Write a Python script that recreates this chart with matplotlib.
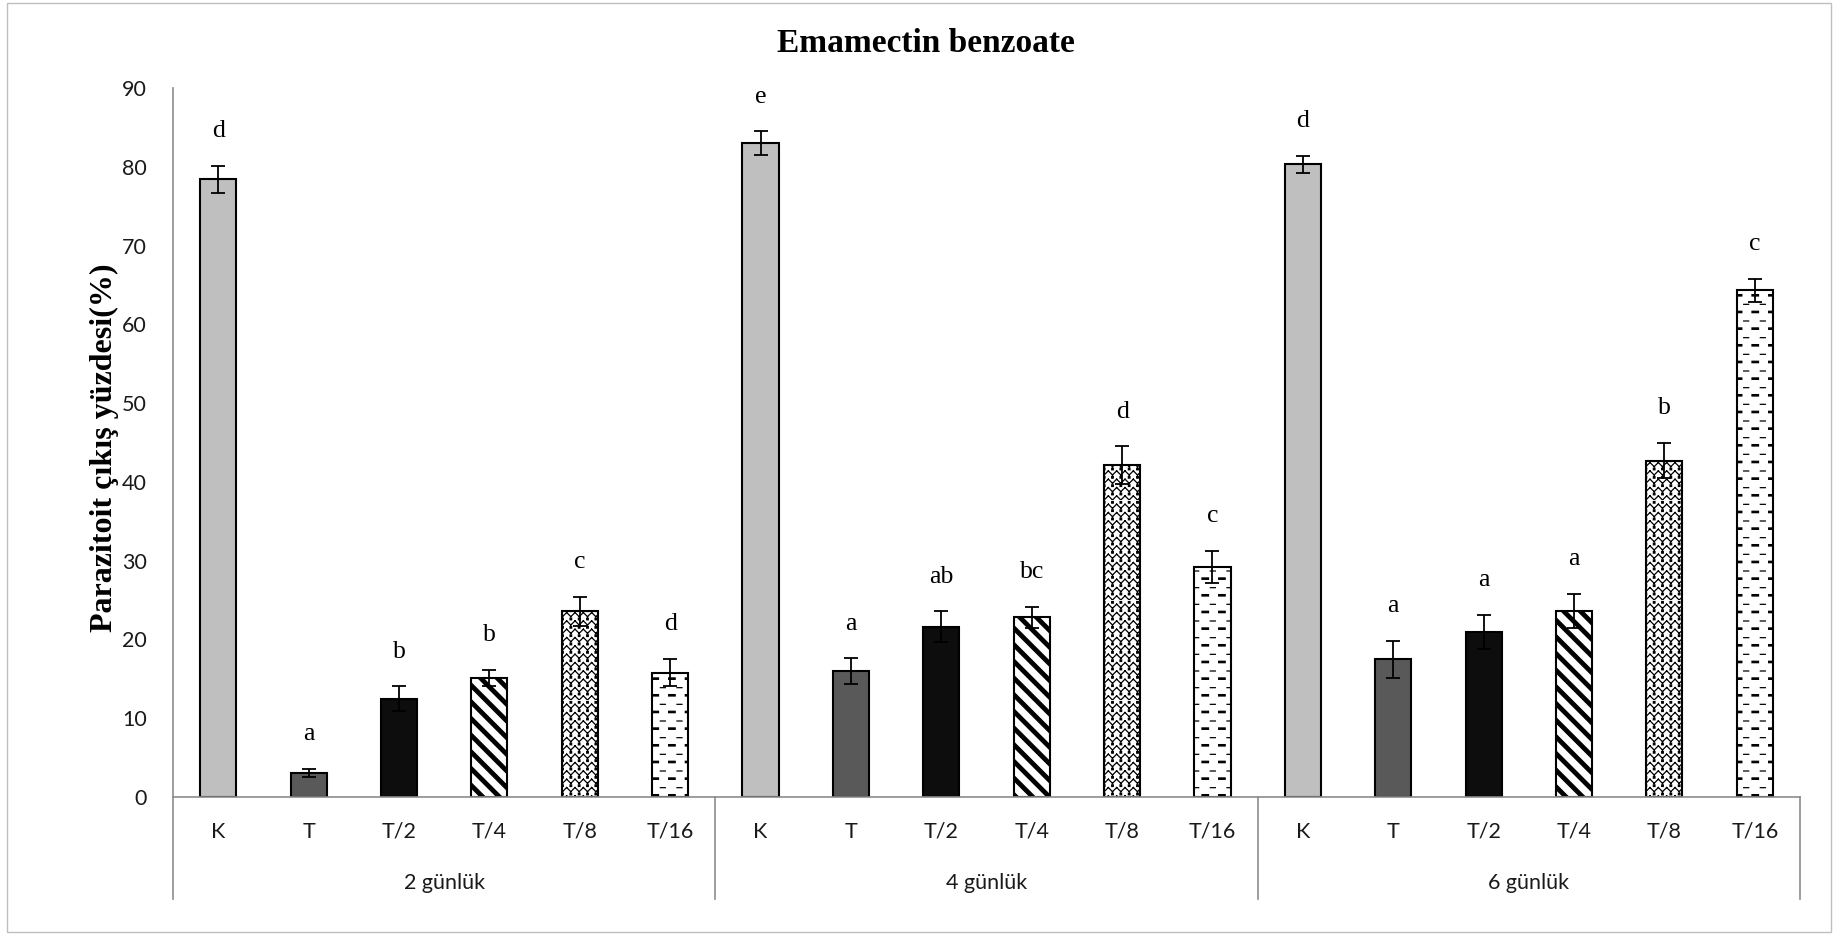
import warnings
import numpy as np
import matplotlib
matplotlib.use('Agg')
import matplotlib.pyplot as plt
from matplotlib import hatch as mhatch
from matplotlib.path import Path
from matplotlib.patches import Rectangle

warnings.filterwarnings('ignore')

# ------------------------------------------------------------------
# data
# ------------------------------------------------------------------
groups = ['2 günlük', '4 günlük', '6 günlük']
treatments = ['K', 'T', 'T/2', 'T/4', 'T/8', 'T/16']

mean_2 = [78.4, 3.1, 12.5, 15.1, 23.6, 15.8]
mean_4 = [83.0, 16.0, 21.6, 22.8, 42.1, 29.2]
mean_6 = [80.3, 17.5, 21.0, 23.6, 42.7, 64.3]

err_2 = [1.7, 0.5, 1.55, 1.05, 1.85, 1.7]
err_4 = [1.5, 1.6, 1.95, 1.35, 2.4, 2.05]
err_6 = [1.05, 2.35, 2.15, 2.15, 2.25, 1.45]

letters_2 = ['d', 'a', 'b', 'b', 'c', 'd']
letters_4 = ['e', 'a', 'ab', 'bc', 'd', 'c']
letters_6 = ['d', 'a', 'a', 'a', 'b', 'c']

means = np.array([mean_2, mean_4, mean_6])
errs = np.array([err_2, err_4, err_6])
letters = [letters_2, letters_4, letters_6]


# ------------------------------------------------------------------
# custom fill patterns (Excel-like pattern fills)
# ------------------------------------------------------------------
class WideDownDiagonal(mhatch.HatchPatternBase):
    n = 6
    thick = 0.05

    def __init__(self, hatch, density):
        self.num_vertices = (2 * self.n + 3) * 5 if 'w' in hatch else 0

    def set_vertices_and_codes(self, vertices, codes):
        v, cd = [], []
        for k in range(-1, 2 * self.n + 2):
            c0 = k / self.n
            v += [(-0.1, c0 + 0.1), (1.1, c0 - 1.1),
                  (1.1, c0 - 1.1 + self.thick), (-0.1, c0 + 0.1 + self.thick), (0, 0)]
            cd += [Path.MOVETO, Path.LINETO, Path.LINETO, Path.LINETO, Path.CLOSEPOLY]
        vertices[:] = v
        codes[:] = cd


class ZigZag(mhatch.HatchPatternBase):
    m = 12
    dot = 0.016

    def __init__(self, hatch, density):
        self.num_vertices = self.m * self.m * 9 if 'z' in hatch else 0

    def set_vertices_and_codes(self, vertices, codes):
        p = 1.0 / self.m
        a = 0.5 * p
        s = self.dot
        v, cd = [], []
        for r in range(self.m):
            y0 = r * p
            for j in range(self.m):
                x0 = j * p
                v += [(x0, y0 + a), (x0 + p / 2, y0), (x0 + p / 2, y0), (x0 + p, y0 + a)]
                cd += [Path.MOVETO, Path.LINETO] * 2
                cx, cy = x0 + p / 2, y0 + 0.72 * p
                v += [(cx - s / 2, cy - s / 2), (cx + s / 2, cy - s / 2),
                      (cx + s / 2, cy + s / 2), (cx - s / 2, cy + s / 2), (0, 0)]
                cd += [Path.MOVETO, Path.LINETO, Path.LINETO, Path.LINETO, Path.CLOSEPOLY]
        vertices[:] = v
        codes[:] = cd


class DashRows(mhatch.HatchPatternBase):
    m = 6

    def __init__(self, hatch, density):
        self.num_vertices = self.m * self.m * 7 if 'd' in hatch else 0

    def set_vertices_and_codes(self, vertices, codes):
        p = 1.0 / self.m
        v, cd = [], []
        for r in range(self.m):
            for j in range(self.m):
                x0 = j * p + 0.02
                y0 = r * p + 0.04
                v += [(x0, y0), (x0 + 0.065, y0), (x0 + 0.065, y0 + 0.014), (x0, y0 + 0.014), (0, 0)]
                cd += [Path.MOVETO, Path.LINETO, Path.LINETO, Path.LINETO, Path.CLOSEPOLY]
                x1 = x0 + p / 2
                y1 = y0 + p / 2
                v += [(x1, y1), (x1 + 0.05, y1)]
                cd += [Path.MOVETO, Path.LINETO]
        vertices[:] = v
        codes[:] = cd


mhatch._hatch_types += [WideDownDiagonal, ZigZag, DashRows]

plt.rcParams['hatch.linewidth'] = 0.9
plt.rcParams['hatch.color'] = 'black'

face_colors = ['#bfbfbf', '#595959', '#0d0d0d', 'white', 'white', 'white']
hatches = [None, None, None, 'w', 'z', 'd']

axis_gray = '#8c8c8c'
text_col = '#1a1a1a'
tick_font = 'Lato'
serif = 'Liberation Serif'

# ------------------------------------------------------------------
# figure
# ------------------------------------------------------------------
W, H = 1836, 936
fig = plt.figure(figsize=(W / 100, H / 100), dpi=100)
ax = fig.add_axes([173 / W, 139 / H, 1627 / W, 709 / H])

n_t = len(treatments)
for t in range(n_t):
    xs = [g * n_t + t for g in range(len(groups))]
    ax.bar(xs, means[:, t], width=0.4, yerr=errs[:, t],
           color=face_colors[t], edgecolor='black', linewidth=1.5,
           hatch=hatches[t], zorder=2,
           error_kw=dict(ecolor='black', elinewidth=1.3, capsize=5, capthick=1.3, zorder=3))

# significance letters
for g in range(len(groups)):
    for t in range(n_t):
        ax.annotate(letters[g][t], (g * n_t + t, means[g, t] + errs[g, t]),
                    xytext=(0, 25), textcoords='offset points',
                    ha='center', va='center', fontsize=18.5, family=serif, color='black')

ax.set_xlim(-0.5, len(groups) * n_t - 0.5)
ax.set_ylim(0, 90)
ax.set_yticks(range(0, 91, 10))
ax.set_xticks(range(len(groups) * n_t))
ax.set_xticklabels(treatments * len(groups))
ax.tick_params(axis='y', length=0, pad=19, labelsize=15.5, labelcolor=text_col)
ax.tick_params(axis='x', length=0, pad=18, labelsize=15.5, labelcolor=text_col)
for lab in ax.get_xticklabels() + ax.get_yticklabels():
    lab.set_family(tick_font)

for s in ['top', 'right']:
    ax.spines[s].set_visible(False)
for s in ['left', 'bottom']:
    ax.spines[s].set_color(axis_gray)
    ax.spines[s].set_linewidth(1.2)

# multi-level category axis: group separators and group names
sep_depth = -(899 - 797) / 709
for g in range(len(groups) + 1):
    ax.plot([g * n_t - 0.5] * 2, [0, sep_depth], color=axis_gray, lw=1.2,
            transform=ax.get_xaxis_transform(), clip_on=False)
for g, name in enumerate(groups):
    ax.text(g * n_t + (n_t - 1) / 2, -(883 - 797) / 709, name,
            transform=ax.get_xaxis_transform(), ha='center', va='center',
            fontsize=15.5, family=tick_font, color=text_col)

fig.text(926 / W, 1 - 43 / H, 'Emamectin benzoate', ha='center', va='center',
         fontsize=24, fontweight='bold', family=serif)
fig.text(104 / W, 1 - 448 / H, 'Parazitoit çıkış yüzdesi(%)', ha='center', va='center',
         rotation=90, fontsize=23, fontweight='bold', family=serif)

# outer chart border
fig.add_artist(Rectangle((7 / W, 4 / H), (1831 - 7) / W, (932 - 3) / H,
                         transform=fig.transFigure, fill=False, ec='#bfbfbf', lw=1))

fig.savefig('out.png', dpi=100)
